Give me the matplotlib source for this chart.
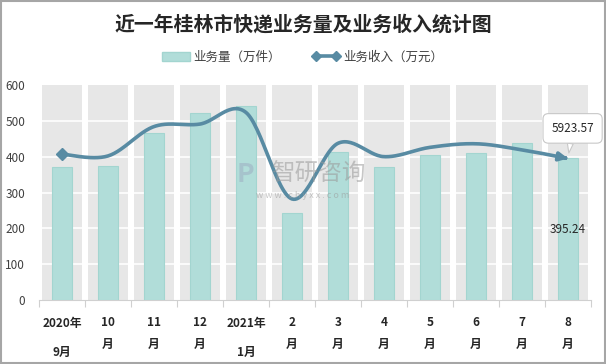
import matplotlib
matplotlib.use("Agg")
import matplotlib.pyplot as plt
import numpy as np
from matplotlib.patches import Patch
from matplotlib.lines import Line2D

plt.rcParams['font.family'] = ['Noto Sans CJK SC', 'DejaVu Sans']

# ---- data ----
top_labels = ["2020年", "10", "11", "12", "2021年", "2", "3", "4", "5", "6", "7", "8"]
bottom_labels = ["9月", "月", "月", "月", "1月", "月", "月", "月", "月", "月", "月", "月"]
volume = [370, 375, 467, 521, 541, 244, 414, 370, 405, 410, 438, 395.24]      # 万件
revenue = [6105, 6030, 7260, 7365, 7850, 4230, 6560, 6000, 6390, 6540, 6285, 5923.57]  # 万元

title = "近一年桂林市快递业务量及业务收入统计图"
bar_name = "业务量（万件）"
line_name = "业务收入（万元）"

bar_color = "#b1ddd9"
bar_edge = "#a3d5d0"
bg_color = "#e7e7e7"
line_color = "#588ba3"

W, H = 606, 364
fig = plt.figure(figsize=(W/100, H/100), dpi=100)
fig.patch.set_facecolor("white")
# outer frame
fig.add_artist(plt.Rectangle((0.0015, 0.002), 0.997, 0.995, transform=fig.transFigure,
                             fill=False, ec="#a6a6a6", lw=1.5))

ax = fig.add_axes([39/W, (H-300)/H, (591-39)/W, 215/H])
n = len(volume)
x = np.arange(n)
ax.set_xlim(-0.5, n-0.5)
ax.set_ylim(0, 600)

ax.bar(x, [600]*n, width=0.85, color=bg_color, zorder=1)
for yv in range(100, 600, 100):
    ax.axhline(yv, color="white", lw=1.2, zorder=2)
ax.bar(x, volume, width=0.42, color=bar_color, edgecolor=bar_edge, lw=0.8, zorder=3)

for s in ["top", "right", "left"]:
    ax.spines[s].set_visible(False)
ax.spines["bottom"].set_color("#d0d0d0")
ax.set_yticks(range(0, 601, 100))
ax.tick_params(axis="y", length=0, labelsize=8.5, labelcolor="#404040", pad=10)
ax.set_xticks(np.arange(-0.5, n, 1.0))
ax.set_xticklabels([])
ax.tick_params(axis="x", length=5, color="#d0d0d0", direction="out")

trans = ax.get_xaxis_transform()
for i in range(n):
    ax.text(i, -23/215, top_labels[i], transform=trans, ha="center", va="center",
            fontsize=8.5, fontweight="bold", color="#262626")
    yb = -52/215 if len(bottom_labels[i]) > 1 else -44/215
    ax.text(i, yb, bottom_labels[i], transform=trans, ha="center", va="center",
            fontsize=8.5, fontweight="bold", color="#262626")

# data label inside last bar
ax.text(n-1, volume[-1]/2, f"{volume[-1]:.2f}", ha="center", va="center",
        fontsize=8.5, color="#262626", zorder=6)

# ---- line on hidden secondary axis ----
ax2 = ax.twinx()
ax2.set_ylim(0, 9000)
ax2.axis("off")

# smooth curve (Catmull-Rom style Bezier through data points)
px = x.astype(float)
py = np.array(revenue, dtype=float)
pts = []
for i in range(n-1):
    p0 = (px[i-1], py[i-1]) if i > 0 else (px[i], py[i])
    p1 = (px[i], py[i])
    p2 = (px[i+1], py[i+1])
    p3 = (px[i+2], py[i+2]) if i+2 < n else (px[i+1], py[i+1])
    c1 = (p1[0] + (p2[0]-p0[0])/6, p1[1] + (p2[1]-p0[1])/6)
    c2 = (p2[0] - (p3[0]-p1[0])/6, p2[1] - (p3[1]-p1[1])/6)
    t = np.linspace(0, 1, 30)
    bx = (1-t)**3*p1[0] + 3*(1-t)**2*t*c1[0] + 3*(1-t)*t**2*c2[0] + t**3*p2[0]
    by = (1-t)**3*p1[1] + 3*(1-t)**2*t*c1[1] + 3*(1-t)*t**2*c2[1] + t**3*p2[1]
    pts.append(np.column_stack([bx, by]))
curve = np.vstack(pts)
ax2.plot(curve[:-3, 0], curve[:-3, 1], color=line_color, lw=2.6, zorder=5,
         solid_capstyle="round")
ax2.annotate("", xy=(px[-1], py[-1]), xytext=(curve[-4, 0], curve[-4, 1]),
             arrowprops=dict(arrowstyle="-|>,head_length=0.5,head_width=0.25",
                             color=line_color, lw=2.6, shrinkA=0, shrinkB=0))
ax2.plot([px[0]], [py[0]], marker="D", ms=6, color=line_color, zorder=6)

# callout
ax2.annotate(f"{revenue[-1]:.2f}", xy=(px[-1], py[-1]), xytext=(px[-1] + 0.1, py[-1] + 1260),
             ha="center", va="center", fontsize=8.5, color="#262626",
             bbox=dict(boxstyle="round,pad=0.7,rounding_size=0.45", fc="white", ec="#c8c8c8", lw=0.8),
             arrowprops=dict(arrowstyle="wedge,tail_width=0.5", fc="white", ec="#c8c8c8",
                             lw=0.8, shrinkA=0, shrinkB=4), zorder=7)

# watermark
fig.text(318/W, 1-174/H, "智研咨询", fontsize=17, color="#9a9a9a", alpha=0.55,
         ha="center", va="center")
fig.text(303/W, 1-195/H, "w w w . c h y x x . c o m", fontsize=6.5, color="#9a9a9a", alpha=0.55,
         ha="center", va="center")
fig.text(245/W, 1-174/H, "P", fontsize=19, color="#9fb3c4", alpha=0.6, fontweight="bold",
         ha="center", va="center")

# title
fig.text(0.5, 1-24/H, title, ha="center", va="center", fontsize=14.3, fontweight="bold",
         color="#262626")

# legend
handles = [Patch(facecolor=bar_color, edgecolor=bar_edge, label=bar_name),
           Line2D([0], [0], color=line_color, lw=2.6, marker="D", ms=5, label=line_name)]
fig.legend(handles=handles, loc="center", bbox_to_anchor=(0.5, 1-57/H), ncol=2,
           frameon=False, fontsize=9, handlelength=2.2, columnspacing=2.5, numpoints=2,
           handletextpad=0.3, labelcolor="#404040")

fig.savefig("out.png", dpi=100)
